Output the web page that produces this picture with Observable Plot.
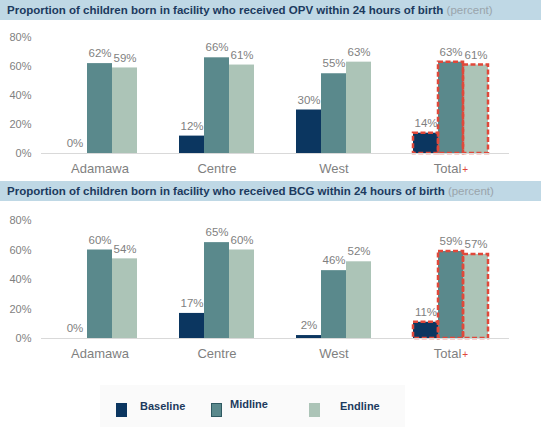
<!DOCTYPE html>
<html>
<head>
<meta charset="utf-8">
<script src="https://cdn.jsdelivr.net/npm/d3@7"></script>
<script src="https://cdn.jsdelivr.net/npm/@observablehq/plot@0.6"></script>
<style>
  html, body { margin: 0; padding: 0; background: #fff; }
  body { width: 541px; height: 431px; position: relative; overflow: hidden; font-family: "Liberation Sans", Arial, sans-serif; }
  .hdr { position: absolute; left: 0; width: 541px; height: 20px; background: #bfd8e5; color: #1c3a5e;
         font-weight: bold; font-size: 11.5px; line-height: 20px; padding-left: 7px; box-sizing: border-box; white-space: nowrap; }
  .hdr span { color: #9aa4ab; font-weight: normal; }
  .chart { position: absolute; left: 0; }
  #legend { position: absolute; left: 100px; top: 385px; width: 305px; height: 42px; background: #fafafa; }
  .lg-item { position: absolute; font-size: 11px; font-weight: bold; color: #1c3a5e; }
  .lg-sw { position: absolute; width: 11px; height: 14px; box-sizing: border-box; }
</style>
</head>
<body>
<div class="hdr" id="h1" style="top:0px">Proportion of children born in facility who received OPV within 24 hours of birth <span>(percent)</span></div>
<div class="chart" id="c1" style="top:20px"></div>
<div class="hdr" id="h2" style="top:181px">Proportion of children born in facility who received BCG within 24 hours of birth <span>(percent)</span></div>
<div class="chart" id="c2" style="top:201px"></div>
<div id="legend"></div>
<script>
const categories = ["Adamawa", "Centre", "West", "Total"];
const series = ["Baseline", "Midline", "Endline"];
const colors = ["#0b3660", "#5a898c", "#acc4b7"];
const yTicks = [0, 20, 40, 60, 80];

const opvBaseline = [0, 12, 30, 14];
const opvMidline  = [62, 66, 55, 63];
const opvEndline  = [59, 61, 63, 61];

const bcgBaseline = [0, 17, 2, 11];
const bcgMidline  = [60, 65, 46, 59];
const bcgEndline  = [54, 60, 52, 57];

function makeChart(values, height, marginTop, marginBottom) {
  const data = categories.flatMap((c, i) => series.map((s, j) => ({category: c, series: s, value: values[j][i]})));
  const total = data.filter(d => d.category === "Total");
  const p = Plot.plot({
    width: 541, height, marginLeft: 40, marginRight: 31, marginTop, marginBottom,
    style: {fontFamily: "Liberation Sans, Arial, sans-serif", fontSize: "11px", color: "#7f7f7f", background: "white"},
    fx: {domain: categories, padding: 0, label: null, tickSize: 0, tickPadding: 10},
    x: {domain: series, axis: null, paddingInner: 0, paddingOuter: 0.76},
    y: {domain: [0, 80], ticks: yTicks, tickFormat: d => d + "%", tickSize: 0, tickPadding: 10, label: null},
    color: {domain: series, range: colors},
    marks: [
      Plot.barY(data, {fx: "category", x: "series", y: "value", fill: "series"}),
      Plot.barY(total, {fx: "category", x: "series", y: "value", fill: "none", stroke: "#e0483a", strokeWidth: 2.5, strokeDasharray: "5,2.5"}),
      Plot.ruleY([0], {stroke: "#d9d9d9"}),
      Plot.text(data, {fx: "category", x: "series", y: "value", text: d => d.value + "%", dy: -10, fill: "#7f7f7f", fontSize: 11.5})
    ]
  });
  d3.select(p).selectAll('g[aria-label="fx-axis tick label"] text').each(function() {
    const t = d3.select(this);
    t.attr("font-size", 13);
    if (t.text() === "Total") {
      t.append("tspan").attr("fill", "#e0483a").attr("font-size", 10).attr("dx", 1).text("+");
    }
  });
  return p;
}

document.getElementById("c1").append(makeChart([opvBaseline, opvMidline, opvEndline], 161, 17, 28));
document.getElementById("c2").append(makeChart([bcgBaseline, bcgMidline, bcgEndline], 174, 19, 37));

const legend = document.getElementById("legend");
const swX = [16, 111, 209];
const txtX = [40, 130, 240];
series.forEach((s, i) => {
  const sw = document.createElement("div");
  sw.className = "lg-sw";
  sw.style.left = swX[i] + "px";
  sw.style.top = "18px";
  sw.style.background = colors[i];
  if (s === "Midline") sw.style.border = "1.2px solid #2f5a62";
  legend.append(sw);
  const t = document.createElement("div");
  t.className = "lg-item";
  t.style.left = txtX[i] + "px";
  t.style.top = (s === "Midline" ? 13 : 15) + "px";
  t.textContent = s;
  legend.append(t);
});
</script>
</body>
</html>
